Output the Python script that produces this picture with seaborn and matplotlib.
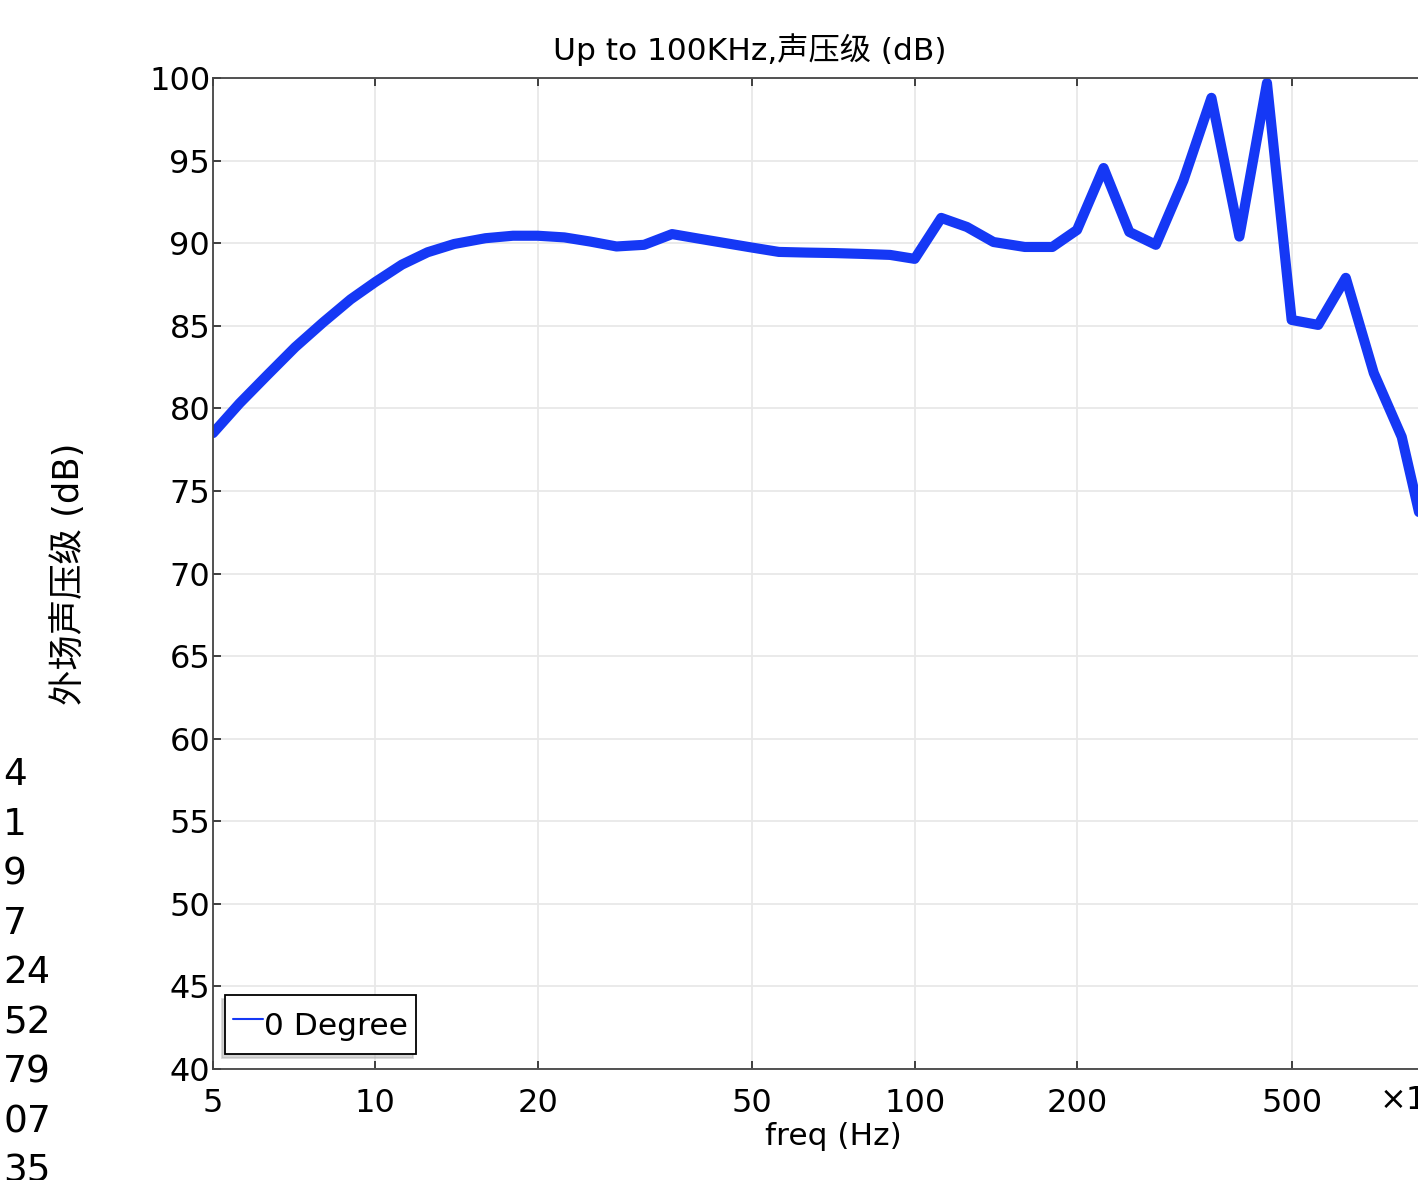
import numpy as np
import pandas as pd
import seaborn as sns
import matplotlib.pyplot as plt

# frequency response
freq = [5, 5.6, 6.3, 7.1, 8, 9, 10, 11.2, 12.5, 14, 16, 18, 20, 22.4, 25, 28, 31.5,
        35.5, 40, 45, 50, 56, 63, 71, 80, 90, 100, 112, 125, 140, 160, 180, 200,
        224, 250, 280, 315, 355, 400, 450, 500, 560, 630, 710, 800, 900, 1000]
spl = [78.5, 80.3, 82.0, 83.7, 85.2, 86.6, 87.65, 88.7, 89.45, 89.95, 90.3, 90.45,
       90.45, 90.35, 90.1, 89.8, 89.9, 90.55, 90.26, 89.98, 89.73, 89.47, 89.43,
       89.4, 89.35, 89.29, 89.05, 91.53, 90.98, 90.07, 89.77, 89.77, 90.8, 94.55,
       90.68, 89.9, 93.8, 98.8, 90.4, 99.7, 85.35, 85.05, 87.9, 82.14, 78.27,
       71.0, 66.0]

xticks = [5, 10, 20, 50, 100, 200, 500]
yticks = list(range(40, 101, 5))
side_nums = ['4', '1', '9', '7', '24', '52', '79', '07', '35']

df = pd.DataFrame({'freq': freq, 'spl': spl})

sns.set_theme(style='ticks')
plt.rcParams['font.family'] = ['DejaVu Sans', 'Noto Sans CJK SC']
plt.rcParams['text.color'] = 'black'

W, H = 1418, 1180
fig = plt.figure(figsize=(W / 100, H / 100), dpi=100)

# axes runs past the right edge of the picture (cropped chart)
ax = fig.add_axes([213 / W, 111 / H, (1454 - 213) / W, 991 / H])

sns.lineplot(data=df, x='freq', y='spl', ax=ax, color='#1538f5', lw=7.3,
             label='0 Degree', sort=False)

ax.set_xscale('log')
ax.set_xlim(5, 1000)
ax.set_ylim(40, 100)
ax.set_xticks(xticks)
ax.set_xticklabels([str(t) for t in xticks])
ax.minorticks_off()
ax.set_yticks(yticks)

ax.grid(True, color='#e8e8e8', lw=1.3)
ax.tick_params(direction='in', length=6, width=1.2, color='#222', labelcolor='black',
               labelsize=23, top=True, right=True)
ax.tick_params(axis='x', pad=14)
ax.tick_params(axis='y', pad=2)
for s in ax.spines.values():
    s.set_color('#444')
    s.set_linewidth(1.3)

ax.set_title('Up to 100KHz,声压级 (dB)', fontsize=22.5, pad=13, x=(750 - 213) / 1241,
             color='black')
ax.set_xlabel('freq (Hz)', fontsize=22.5, labelpad=0, color='black')
ax.xaxis.set_label_coords(0.5, -0.053)
ax.set_ylabel('外场声压级 (dB)', fontsize=25.5, color='black')
ax.yaxis.set_label_coords(-0.102, 0.5)

ax.text((1380 - 213) / 1241, -0.032, '×10³', transform=ax.transAxes,
        fontsize=23, ha='left', va='center')

leg = ax.legend(loc='lower left', bbox_to_anchor=(0.01, 0.015), borderaxespad=0,
                fontsize=22.5, frameon=True, fancybox=False,
                shadow={'ox': -2.5, 'oy': -2.5, 'color': '#b0b0b0'},
                handlelength=0.95, handleheight=1.75, handletextpad=0.05,
                borderpad=0.25)
leg.get_frame().set_edgecolor('black')
leg.get_frame().set_linewidth(1.3)
for h in leg.get_lines():
    h.set_linewidth(1.5)

# clipped numbers from a neighbouring panel on the left
side = fig.add_axes([0, 0, 48 / W, 1])
side.set_axis_off()
for i, t in enumerate(side_nums):
    ybot = 785 + i * 49.6
    txt = side.text(3 / 48, 1 - ybot / H, t, transform=side.transAxes, fontsize=27,
                    ha='left', va='baseline', clip_on=True)
    txt.set_clip_path(None)
    txt.set_clip_box(side.bbox)

fig.savefig('out.png', dpi=100)
